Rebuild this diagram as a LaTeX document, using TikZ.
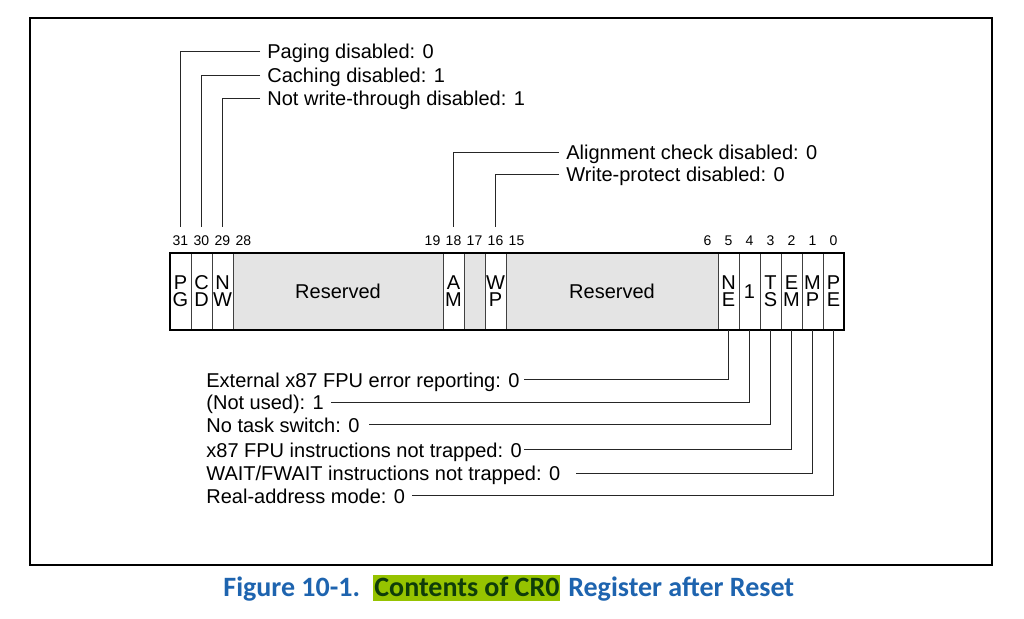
\documentclass[tikz,border=0pt]{standalone}
\usepackage{fontspec}
\setmainfont{Liberation Sans}
\newfontfamily\capfont{Carlito}
\usepackage{tikz}
\usetikzlibrary{positioning}
\definecolor{resgray}{RGB}{228,228,228}
\definecolor{capblue}{RGB}{30,100,175}
\definecolor{hlgreen}{RGB}{150,195,0}
\definecolor{hltext}{RGB}{15,60,10}
\tikzstyle{bit} = [rectangle, draw=black!75, line width=0.4pt, fill=white, minimum width=10.5pt, minimum height=38.5pt, inner sep=0pt, outer sep=0pt, align=center, font=\fontsize{10}{8.5}\selectfont]
\tikzstyle{reserved} = [bit, fill=resgray, font=\fontsize{10}{12}\selectfont]
\tikzstyle{bitno} = [inner xsep=0pt, inner ysep=4.5pt, anchor=base, font=\fontsize{7}{8}\selectfont]
\tikzstyle{flag} = [inner sep=1pt, text height=7.2pt, text depth=0pt, font=\fontsize{10}{12}\selectfont]
\tikzstyle{leader} = [line width=0.5pt, black!85]
\tikzstyle{caption} = [inner sep=0pt, anchor=base west, text=capblue, font=\capfont\bfseries\fontsize{14}{16}\selectfont]

\begin{document}
\begin{tikzpicture}[x=0.5pt, y=-0.5pt]
  \useasboundingbox (0,0) rectangle (1024,619);
  \fill [white] (0,0) rectangle (1024,619);
  \draw [line width=0.8pt] (30,18) rectangle (992,565);

  % register cells
  \node (pg) [bit, anchor=north west] at (170,253) {P\\G};
  \node (cd) [bit, right=0pt of pg] {C\\D};
  \node (nw) [bit, right=0pt of cd] {N\\W};
  \node (res1) [reserved, minimum width=105pt, right=0pt of nw] {Reserved};
  \node (am) [bit, right=0pt of res1] {A\\M};
  \node (b17) [bit, fill=resgray, right=0pt of am] {};
  \node (wp) [bit, right=0pt of b17] {W\\P};
  \node (res2) [reserved, minimum width=106pt, right=0pt of wp] {Reserved};
  \node (ne) [bit, right=0pt of res2] {N\\E};
  \node (one) [bit, right=0pt of ne] {1};
  \node (ts) [bit, right=0pt of one] {T\\S};
  \node (em) [bit, right=0pt of ts] {E\\M};
  \node (mp) [bit, right=0pt of em] {M\\P};
  \node (pe) [bit, right=0pt of mp] {P\\E};
  \draw [line width=1pt] (pg.north west) rectangle (pe.south east);

  % bit numbers
  \node (n31) [bitno] at ([yshift=3.5pt]pg.north) {31};
  \node (n30) [bitno] at ([yshift=3.5pt]cd.north) {30};
  \node (n29) [bitno] at ([yshift=3.5pt]nw.north) {29};
  \node (n28) [bitno] at ([xshift=5.25pt,yshift=3.5pt]res1.north west) {28};
  \node (n19) [bitno] at ([xshift=-5.25pt,yshift=3.5pt]res1.north east) {19};
  \node (n18) [bitno] at ([yshift=3.5pt]am.north) {18};
  \node (n17) [bitno] at ([yshift=3.5pt]b17.north) {17};
  \node (n16) [bitno] at ([yshift=3.5pt]wp.north) {16};
  \node (n15) [bitno] at ([xshift=5.25pt,yshift=3.5pt]res2.north west) {15};
  \node (n6) [bitno] at ([xshift=-5.25pt,yshift=3.5pt]res2.north east) {6};
  \node (n5) [bitno] at ([yshift=3.5pt]ne.north) {5};
  \node (n4) [bitno] at ([yshift=3.5pt]one.north) {4};
  \node (n3) [bitno] at ([yshift=3.5pt]ts.north) {3};
  \node (n2) [bitno] at ([yshift=3.5pt]em.north) {2};
  \node (n1) [bitno] at ([yshift=3.5pt]mp.north) {1};
  \node (n0) [bitno] at ([yshift=3.5pt]pe.north) {0};

  % upper flags
  \node (lpg) [flag, anchor=west] at (265,51.7) {Paging disabled: 0};
  \node (lcd) [flag, below=11.8pt of lpg.west, anchor=west] {Caching disabled: 1};
  \node (lnw) [flag, below=11.7pt of lcd.west, anchor=west] {Not write-through disabled: 1};
  \node (lam) [flag, anchor=west] at (564,152.3) {Alignment check disabled: 0};
  \node (lwp) [flag, below=11pt of lam.west, anchor=west] {Write-protect disabled: 0};

  \draw [leader] ([xshift=-2.5pt]lpg.west) -| (n31.north);
  \draw [leader] ([xshift=-2.5pt]lcd.west) -| (n30.north);
  \draw [leader] ([xshift=-2.5pt]lnw.west) -| (n29.north);
  \draw [leader] ([xshift=-2.5pt]lam.west) -| (n18.north);
  \draw [leader] ([xshift=-2.5pt]lwp.west) -| (n16.north);

  % lower flags
  \node (lne) [flag, anchor=west] at (204,380) {External x87 FPU error reporting: 0};
  \node (lone) [flag, below=11.35pt of lne.west, anchor=west] {(Not used): 1};
  \node (lts) [flag, below=11.15pt of lone.west, anchor=west] {No task switch: 0};
  \node (lem) [flag, below=12.5pt of lts.west, anchor=west] {x87 FPU instructions not trapped: 0};
  \node (lmp) [flag, below=11.65pt of lem.west, anchor=west] {WAIT/FWAIT instructions not trapped: 0};
  \node (lpe) [flag, below=11.35pt of lmp.west, anchor=west] {Real-address mode: 0};

  \draw [leader] (ne.south) |- ([xshift=1pt]lne.east);
  \draw [leader] (one.south) |- ([xshift=2.5pt]lone.east);
  \draw [leader] (ts.south) |- ([xshift=3.5pt]lts.east);
  \draw [leader] (em.south) |- (lem.east);
  \draw [leader] (mp.south) |- ([xshift=6.5pt]lmp.east);
  \draw [leader] (pe.south) |- ([xshift=2.5pt]lpe.east);

  % caption
  \node (fig) [caption] at (223,597) {Figure 10-1.};
  \node (hl) [caption, fill=hlgreen, text=hltext, inner xsep=0.5pt, text height=11pt, text depth=2pt] at (373,597) {Contents of CR0};
  \node (rst) [caption, right=3.5pt of hl.base east, anchor=base west] {Register after Reset};
\end{tikzpicture}
\end{document}
